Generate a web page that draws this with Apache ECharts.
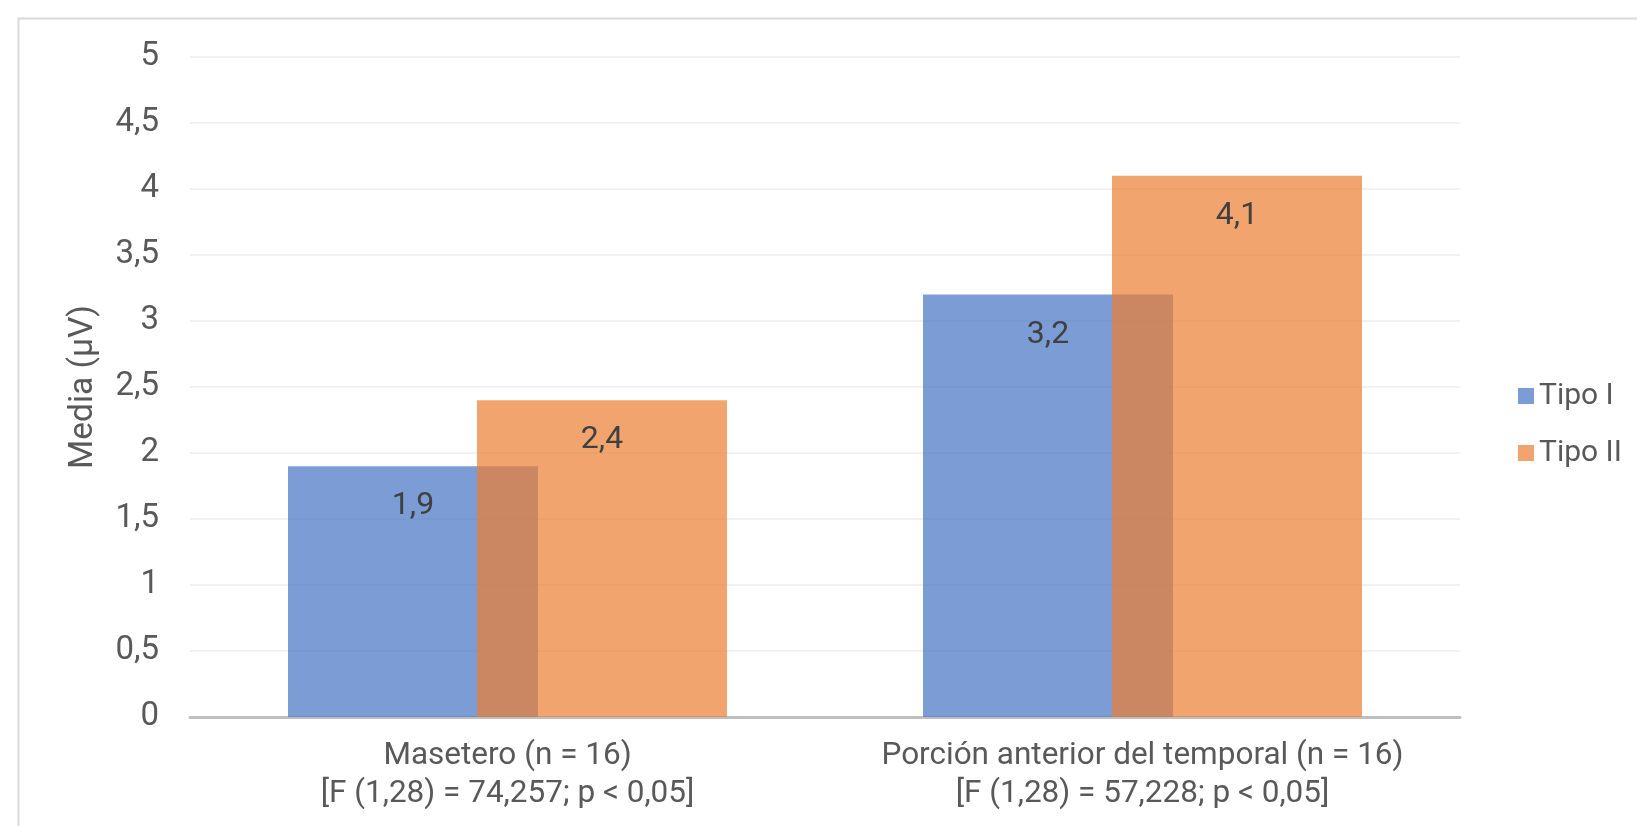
<!DOCTYPE html>
<html>
<head>
<meta charset="utf-8">
<script src="https://cdn.jsdelivr.net/npm/echarts@6/dist/echarts.min.js"></script>
<style>
html,body{margin:0;padding:0;background:#fff;}
#c{width:1637px;height:826px;}
</style>
</head>
<body>
<div id="c"></div>
<script>
const categories = ['Masetero (n = 16)\n[F (1,28) = 74,257; p < 0,05]', 'Porción anterior del temporal (n = 16)\n[F (1,28) = 57,228; p < 0,05]'];
const seriesNames = ['Tipo I', 'Tipo II'];
const tipoI = [1.9, 3.2];
const tipoII = [2.4, 4.1];
const yTicks = {min: 0, max: 5, interval: 0.5};

const chart = echarts.init(document.getElementById('c'), null, {renderer: 'canvas'});
const FONT = 'Roboto';
const fmt = v => String(v).replace('.', ',');
chart.setOption({
  animation: false,
  backgroundColor: '#fff',
  textStyle: {fontFamily: FONT},
  graphic: [{
    type: 'rect', left: 16, top: 16,
    shape: {width: 1700, height: 900},
    style: {fill: 'none', stroke: '#D9D9D9', lineWidth: 2},
    silent: true, z: -10
  }],
  grid: {left: 190, right: 177, top: 57, bottom: 109, containLabel: false},
  legend: {
    orient: 'vertical', left: 1518, top: 381, padding: 0,
    itemWidth: 16, itemHeight: 16, itemGap: 27,
    icon: 'rect',
    textStyle: {fontFamily: FONT, fontSize: 30, color: '#595959', lineHeight: 30},
    data: seriesNames
  },
  xAxis: {
    type: 'category', data: categories,
    axisLine: {lineStyle: {color: '#BFBFBF', width: 3}},
    axisTick: {show: false},
    axisLabel: {fontFamily: FONT, fontSize: 31.5, color: '#595959', lineHeight: 38, margin: 20, interval: 0}
  },
  yAxis: {
    type: 'value', min: yTicks.min, max: yTicks.max, interval: yTicks.interval,
    name: 'Media (μV)', nameLocation: 'middle', nameGap: 89, nameRotate: 90,
    nameTextStyle: {fontFamily: FONT, fontSize: 33.5, color: '#595959'},
    axisLine: {show: false}, axisTick: {show: false},
    splitLine: {lineStyle: {color: '#EDEDED', width: 1.5}},
    axisLabel: {fontFamily: FONT, fontSize: 33, color: '#595959', margin: 31, formatter: fmt}
  },
  series: [
    {
      name: seriesNames[0], type: 'bar', data: tipoI, barWidth: 250, barGap: '-24.4%',
      itemStyle: {color: 'rgba(68,114,196,0.7)'},
      label: {show: true, position: 'insideTop', distance: 24, fontFamily: FONT, fontSize: 32, color: '#404040', formatter: p => fmt(p.value)}
    },
    {
      name: seriesNames[1], type: 'bar', data: tipoII, barWidth: 250,
      itemStyle: {color: 'rgba(237,125,49,0.7)'},
      label: {show: true, position: 'insideTop', distance: 24, fontFamily: FONT, fontSize: 32, color: '#404040', formatter: p => fmt(p.value)}
    }
  ]
});
</script>
</body>
</html>
